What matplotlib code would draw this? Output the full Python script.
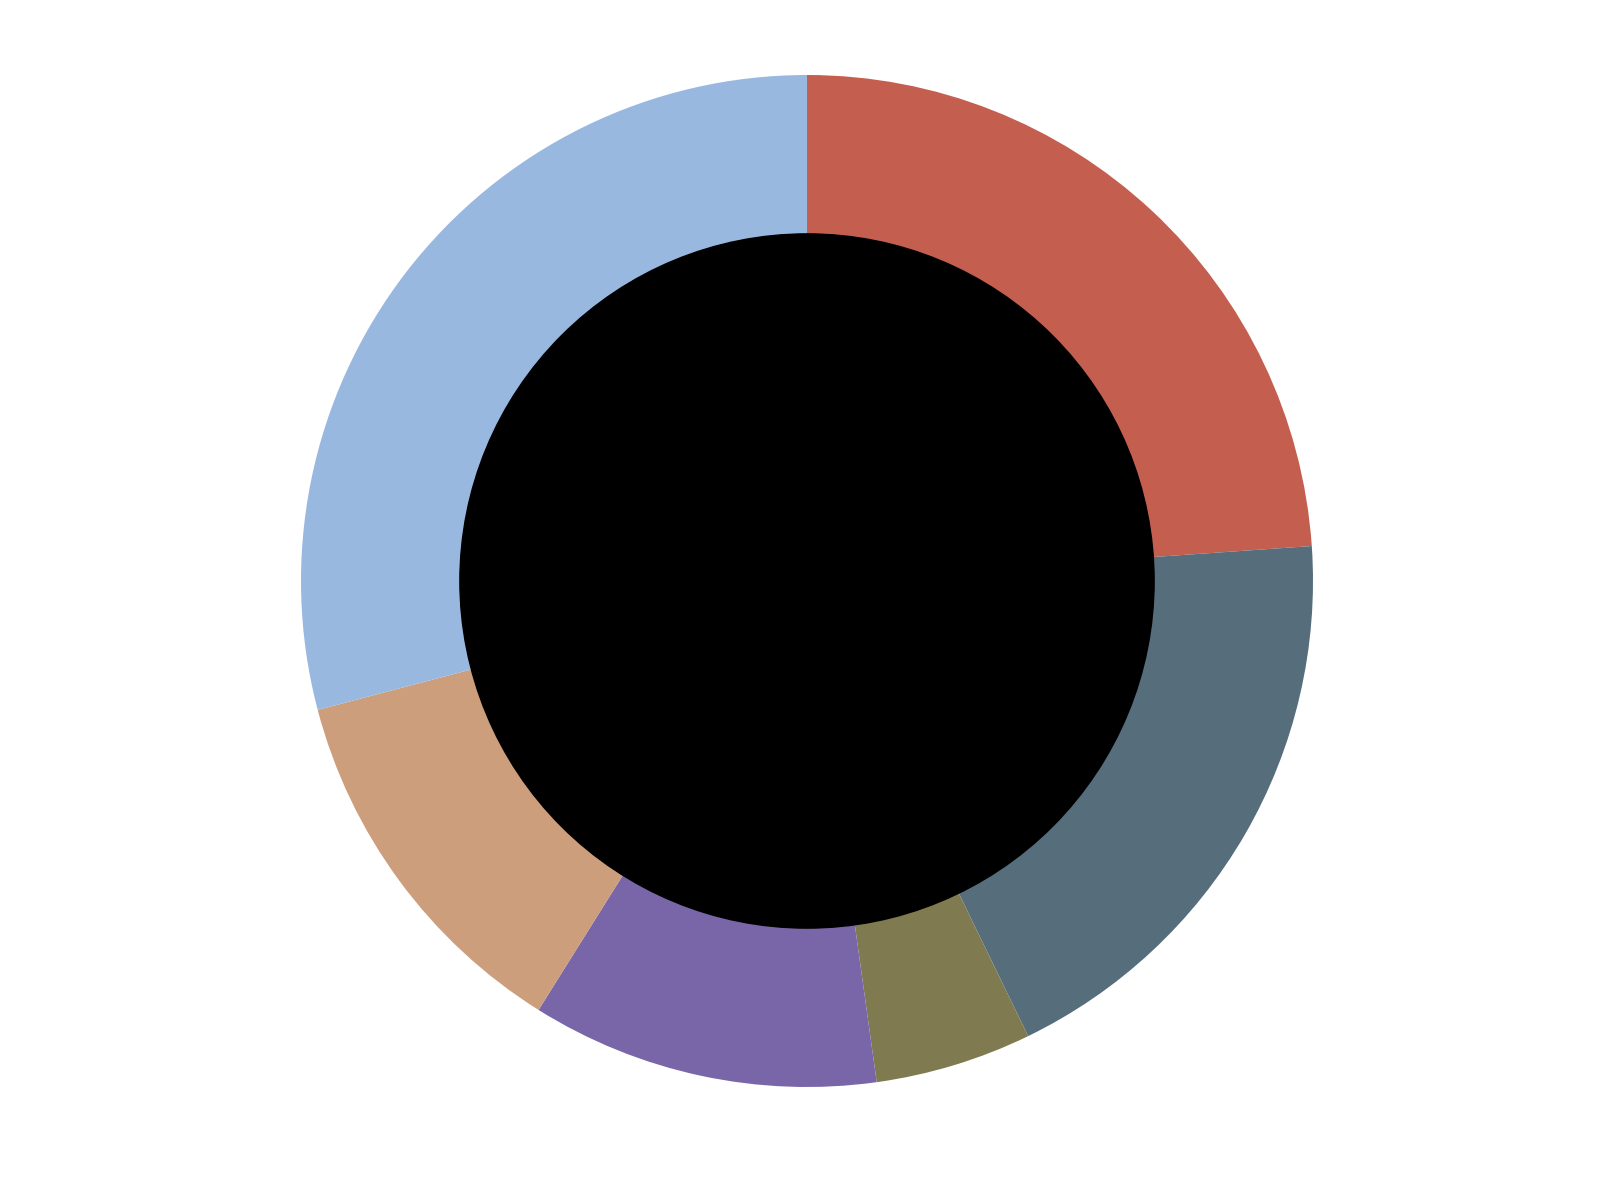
import matplotlib
matplotlib.use("Agg")
import matplotlib.pyplot as plt

# slice shares (percent), clockwise from 12 o'clock
shares = [23.9, 18.9, 5.0, 11.1, 12.0, 29.1]
colors = ["#C45F50", "#566D7C", "#807A50", "#7866A9", "#CC9E7C", "#99B8DF"]

fig = plt.figure(figsize=(16.16, 12), dpi=100)
# axes placed so the ring is centred at (807, 581) px with outer radius ~506 px
ax = fig.add_axes([301 / 1616, 113 / 1200, 1012 / 1616, 1012 / 1200])

ax.pie(shares, colors=colors, startangle=90, counterclock=False,
       radius=1.0, wedgeprops=dict(width=1.0, linewidth=0))

# black centre
ax.add_patch(plt.Circle((0, 0), 0.686, color="black", zorder=3))

ax.set_xlim(-1, 1)
ax.set_ylim(-1, 1)
ax.set_aspect("equal")
ax.axis("off")

fig.savefig("out.png", dpi=100, facecolor="white")
